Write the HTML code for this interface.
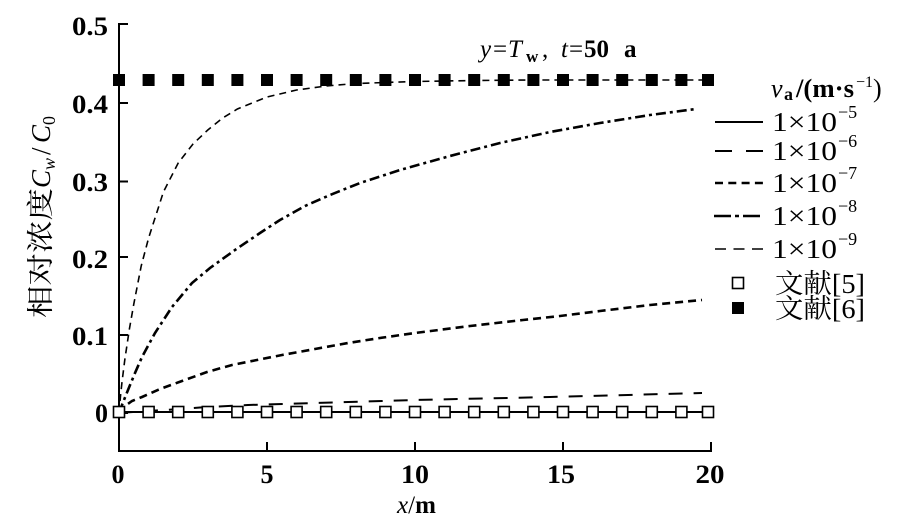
<!DOCTYPE html>
<html>
<head>
<meta charset="utf-8">
<style>
html,body{margin:0;padding:0;background:#fff;}
svg{display:block;}
text{font-family:"Liberation Serif","Noto Serif CJK SC","Noto Sans CJK SC",serif;fill:#000;}
</style>
</head>
<body>
<svg width="907" height="531" viewBox="0 0 907 531" xmlns="http://www.w3.org/2000/svg">
<rect width="907" height="531" fill="#fff"/>

<!-- Axes -->
<g stroke="#000" stroke-width="2" fill="none">
  <line x1="119" y1="23" x2="119" y2="452"/>
  <line x1="118" y1="451" x2="712" y2="451"/>
  <line x1="119" y1="24" x2="128" y2="24"/>
  <line x1="119" y1="103" x2="128" y2="103"/>
  <line x1="119" y1="181.5" x2="128" y2="181.5"/>
  <line x1="119" y1="257" x2="128" y2="257"/>
  <line x1="119" y1="335" x2="128" y2="335"/>
  <line x1="119" y1="413" x2="128" y2="413"/>
  <line x1="267" y1="451" x2="267" y2="442"/>
  <line x1="415" y1="451" x2="415" y2="442"/>
  <line x1="563" y1="451" x2="563" y2="442"/>
  <line x1="711" y1="451" x2="711" y2="442"/>
</g>

<!-- Y tick labels -->
<g font-size="26" font-weight="bold" text-anchor="end">
  <text x="108" y="35" textLength="36" lengthAdjust="spacingAndGlyphs">0.5</text>
  <text x="108" y="113" textLength="36" lengthAdjust="spacingAndGlyphs">0.4</text>
  <text x="108" y="191" textLength="36" lengthAdjust="spacingAndGlyphs">0.3</text>
  <text x="108" y="268" textLength="36" lengthAdjust="spacingAndGlyphs">0.2</text>
  <text x="108" y="345" textLength="36" lengthAdjust="spacingAndGlyphs">0.1</text>
  <text x="108" y="422">0</text>
</g>

<!-- X tick labels -->
<g font-size="26" font-weight="bold" text-anchor="middle">
  <text x="118" y="483">0</text>
  <text x="267" y="483">5</text>
  <text x="415" y="483" textLength="28" lengthAdjust="spacingAndGlyphs">10</text>
  <text x="561" y="483" textLength="28" lengthAdjust="spacingAndGlyphs">15</text>
  <text x="710" y="483" textLength="29" lengthAdjust="spacingAndGlyphs">20</text>
</g>

<!-- X axis title -->
<text x="397" y="513" font-size="25"><tspan font-style="italic">x</tspan><tspan>/</tspan><tspan font-weight="bold">m</tspan></text>

<!-- Y axis title (rotated) -->
<g transform="rotate(-90)">
  <text x="-318" y="50" font-size="27"><tspan textLength="130" lengthAdjust="spacingAndGlyphs">相对浓度</tspan><tspan x="-188" font-style="italic">C</tspan><tspan font-style="italic" font-size="18" dy="5">w</tspan><tspan x="-155" dy="-5">/</tspan><tspan x="-143" font-style="italic">C</tspan><tspan font-size="18" dy="5">0</tspan></text>
</g>

<!-- Title -->
<text y="57" font-size="25"><tspan x="480" font-style="italic">y</tspan><tspan x="493">=</tspan><tspan x="508" font-style="italic">T</tspan><tspan x="526" dy="5" font-size="17" font-weight="bold">w</tspan><tspan x="542" dy="-5">,</tspan><tspan x="561" font-style="italic">t</tspan><tspan x="569">=</tspan><tspan x="584" font-weight="bold">50</tspan><tspan x="624" font-weight="bold">a</tspan></text>

<!-- Series: 1e-5 solid -->
<line x1="119" y1="412" x2="711" y2="412" stroke="#000" stroke-width="2"/>

<!-- Series: 1e-6 long dash -->
<polyline fill="none" stroke="#000" stroke-width="2" stroke-dasharray="14,11"
 points="119,413 140,411.5 165,410 200,407.5 248,405 315,403 415,400 550,397 702,393"/>

<!-- Series: 1e-7 dense dash -->
<polyline fill="none" stroke="#000" stroke-width="2.6" stroke-dasharray="8,5"
 points="119,413 121,410 125,406 132,401 142,397 160,389 182,381 207,372 232,365 257,360 282,355 315,349 348,343 380,338 415,333 470,326 523,320 560,316 600,311 650,305 702,300"/>

<!-- Series: 1e-8 dash-dot -->
<polyline fill="none" stroke="#000" stroke-width="2.6" stroke-dasharray="10,4,3,4"
 points="119,413 122,405 128,390 135,373 142,357 155,333 172,307 192,283 210,268 235,250 260,233 280,220 305,206 330,195 360,183 400,170 450,156 500,143 550,132 600,123 650,115 696,109"/>

<!-- Series: 1e-9 thin dash -->
<polyline fill="none" stroke="#000" stroke-width="1.6" stroke-dasharray="7,5"
 points="119,413 120.5,396 122,382 124.9,359 129.4,329 133.8,304 141.2,266 148.6,238 163.4,192 178.2,163 193,144 207.8,130 222.6,118 237.4,109 267,97 296.6,90 326.2,86 355.8,83.5 415,81.5 474,80.5 530,80 711,80"/>

<!-- Filled markers -->
<g fill="#000">
  <rect x="113" y="74" width="12" height="12"/>
  <rect x="142.6" y="74" width="12" height="12"/>
  <rect x="172.2" y="74" width="12" height="12"/>
  <rect x="201.8" y="74" width="12" height="12"/>
  <rect x="231.4" y="74" width="12" height="12"/>
  <rect x="261" y="74" width="12" height="12"/>
  <rect x="290.6" y="74" width="12" height="12"/>
  <rect x="320.2" y="74" width="12" height="12"/>
  <rect x="349.8" y="74" width="12" height="12"/>
  <rect x="379.4" y="74" width="12" height="12"/>
  <rect x="409" y="74" width="12" height="12"/>
  <rect x="438.6" y="74" width="12" height="12"/>
  <rect x="468.2" y="74" width="12" height="12"/>
  <rect x="497.8" y="74" width="12" height="12"/>
  <rect x="527.4" y="74" width="12" height="12"/>
  <rect x="557" y="74" width="12" height="12"/>
  <rect x="586.6" y="74" width="12" height="12"/>
  <rect x="616.2" y="74" width="12" height="12"/>
  <rect x="645.8" y="74" width="12" height="12"/>
  <rect x="675.4" y="74" width="12" height="12"/>
  <rect x="702" y="74" width="12" height="12"/>
</g>

<!-- Open markers -->
<g fill="#fff" stroke="#000" stroke-width="1.6">
  <rect x="113.5" y="406.5" width="11" height="11"/>
  <rect x="143.1" y="406.5" width="11" height="11"/>
  <rect x="172.7" y="406.5" width="11" height="11"/>
  <rect x="202.3" y="406.5" width="11" height="11"/>
  <rect x="231.9" y="406.5" width="11" height="11"/>
  <rect x="261.5" y="406.5" width="11" height="11"/>
  <rect x="291.1" y="406.5" width="11" height="11"/>
  <rect x="320.7" y="406.5" width="11" height="11"/>
  <rect x="350.3" y="406.5" width="11" height="11"/>
  <rect x="379.9" y="406.5" width="11" height="11"/>
  <rect x="409.5" y="406.5" width="11" height="11"/>
  <rect x="439.1" y="406.5" width="11" height="11"/>
  <rect x="468.7" y="406.5" width="11" height="11"/>
  <rect x="498.3" y="406.5" width="11" height="11"/>
  <rect x="527.9" y="406.5" width="11" height="11"/>
  <rect x="557.5" y="406.5" width="11" height="11"/>
  <rect x="587.1" y="406.5" width="11" height="11"/>
  <rect x="616.7" y="406.5" width="11" height="11"/>
  <rect x="646.3" y="406.5" width="11" height="11"/>
  <rect x="675.9" y="406.5" width="11" height="11"/>
  <rect x="702.5" y="406.5" width="11" height="11"/>
</g>

<!-- Legend -->
<text y="97" font-size="26"><tspan x="771" font-style="italic">v</tspan><tspan x="784" dy="3" font-size="18" font-weight="bold">a</tspan><tspan x="796" dy="-3" font-weight="bold" textLength="58" lengthAdjust="spacingAndGlyphs">/(m·s</tspan><tspan x="856" dy="-10" font-size="16">−1</tspan><tspan x="873" dy="10">)</tspan></text>

<g stroke="#000" fill="none">
  <line x1="715" y1="122" x2="763" y2="122" stroke-width="2"/>
  <line x1="715" y1="151" x2="763" y2="151" stroke-width="2" stroke-dasharray="17,14"/>
  <line x1="715" y1="183" x2="763" y2="183" stroke-width="2.4" stroke-dasharray="8,5.3"/>
  <line x1="714" y1="216" x2="762" y2="216" stroke-width="2.4" stroke-dasharray="17,4,4,4"/>
  <line x1="715" y1="249" x2="763" y2="249" stroke-width="1.6" stroke-dasharray="11,7.5"/>
</g>
<rect x="732.5" y="277.5" width="11" height="11" fill="#fff" stroke="#000" stroke-width="1.6"/>
<rect x="732" y="302" width="12" height="12" fill="#000"/>

<g font-size="27">
  <text y="131"><tspan x="772" textLength="65" lengthAdjust="spacingAndGlyphs">1×10</tspan><tspan x="838" dy="-13" font-size="18">−5</tspan></text>
  <text y="160"><tspan x="772" textLength="65" lengthAdjust="spacingAndGlyphs">1×10</tspan><tspan x="838" dy="-13" font-size="18">−6</tspan></text>
  <text y="192"><tspan x="772" textLength="65" lengthAdjust="spacingAndGlyphs">1×10</tspan><tspan x="838" dy="-13" font-size="18">−7</tspan></text>
  <text y="225"><tspan x="772" textLength="65" lengthAdjust="spacingAndGlyphs">1×10</tspan><tspan x="838" dy="-13" font-size="18">−8</tspan></text>
  <text y="258"><tspan x="772" textLength="65" lengthAdjust="spacingAndGlyphs">1×10</tspan><tspan x="838" dy="-13" font-size="18">−9</tspan></text>
  <text x="775" y="293" textLength="90" lengthAdjust="spacingAndGlyphs">文献[5]</text>
  <text x="775" y="318" textLength="90" lengthAdjust="spacingAndGlyphs">文献[6]</text>
</g>
</svg>
</body>
</html>
